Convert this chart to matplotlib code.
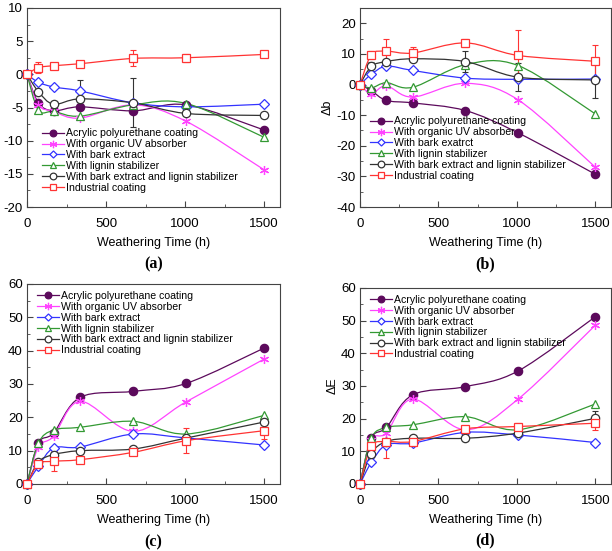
import numpy as np
import matplotlib
matplotlib.use("Agg")
import matplotlib.pyplot as plt
from matplotlib.path import Path
from matplotlib.patches import PathPatch
from matplotlib.lines import Line2D
from matplotlib.ticker import MultipleLocator

plt.rcParams["font.family"] = ["Liberation Sans", "DejaVu Sans"]
plt.rcParams["axes.unicode_minus"] = False

hours = [0, 72, 168, 336, 672, 1008, 1500]

names = ["Acrylic polyurethane coating", "With organic UV absorber", "With bark extract",
         "With lignin stabilizer", "With bark extract and lignin stabilizer", "Industrial coating"]
names_b = names[:2] + ["With bark exatrct"] + names[3:]

# panel (a) - lightness change
a_acrylic = [0, -4.3, -5.5, -4.9, -5.5, -4.6, -8.4]
a_uv = [0, -4.6, -5.6, -6.6, -4.6, -7.1, -14.4]
a_bark = [0, -1.2, -1.9, -2.5, -4.3, -4.9, -4.5]
a_lignin = [0, -5.4, -5.6, -6.3, -4.6, -4.4, -9.5]
a_both = [0, -2.6, -4.5, -3.7, -4.3, -5.9, -6.2]
a_ind = [0, 1.0, 1.3, 1.6, 2.4, 2.5, 3.0]
a_both_err = [0, 0, 0.4, 2.9, 3.7, 0, 0]
a_ind_err = [0, 0.8, 0, 0, 1.2, 0.6, 0]

# panel (b) - delta b
b_acrylic = [0, -2.0, -5.2, -6.0, -8.5, -15.8, -29.3]
b_uv = [0, -3.0, -0.4, -4.1, 0.4, -5.0, -27.0]
b_bark = [0, 3.3, 6.0, 4.6, 2.1, 1.7, 1.8]
b_lignin = [0, -1.1, 0.6, -0.9, 6.5, 6.2, -9.6]
b_both = [0, 5.9, 7.5, 8.4, 7.5, 2.4, 1.5]
b_ind = [0, 9.7, 10.9, 10.3, 13.6, 9.5, 7.6]
b_both_err = [0, 1.5, 0, 0, 3.5, 4.6, 6.0]
b_ind_err = [0, 1.2, 4.0, 2.0, 1.3, 8.3, 5.4]

# panel (c) - delta a (colour)
c_acrylic = [0, 12.3, 15.3, 26.0, 27.8, 30.2, 40.8]
c_uv = [0, 11.1, 14.3, 24.8, 15.8, 24.7, 37.5]
c_bark = [0, 5.3, 10.8, 11.1, 15.0, 13.8, 11.7]
c_lignin = [0, 12.3, 16.2, 17.0, 18.8, 15.0, 20.6]
c_both = [0, 6.6, 8.8, 10.0, 10.5, 13.8, 18.6]
c_ind = [0, 6.0, 6.8, 7.3, 9.5, 13.0, 16.0]
c_both_err = [0, 0, 0, 0, 0.8, 0, 0]
c_ind_err = [0, 0.8, 3.0, 0, 0.8, 3.8, 2.5]

# panel (d) - delta E
d_acrylic = [0, 14.0, 17.3, 27.3, 29.8, 34.6, 51.2]
d_uv = [0, 13.5, 15.6, 26.0, 16.6, 26.0, 48.6]
d_bark = [0, 6.6, 12.0, 12.5, 15.8, 15.0, 12.7]
d_lignin = [0, 14.0, 17.3, 18.1, 20.6, 16.6, 24.5]
d_both = [0, 9.3, 13.0, 14.0, 14.0, 15.6, 20.1]
d_ind = [0, 11.5, 13.0, 13.0, 16.9, 17.6, 18.6]
d_both_err = [0, 0, 0, 0, 0, 0, 2.3]
d_ind_err = [0, 0, 5.0, 1.5, 0, 1.2, 2.0]

colors = ["#5c0a5c", "#ff44ff", "#3333ff", "#339933", "#333333", "#ff3333"]
markers = ["o", (6, 2, 0), "D", "^", "o", "s"]
msizes = [6, 6.5, 4.8, 6.2, 6, 5.8]
filled = [True, True, False, False, False, False]


def smooth_path(x, y):
    # Excel-style smoothed line: cubic Bezier segments with Catmull-Rom control points
    pts = np.column_stack([x, y]).astype(float)
    n = len(pts)
    verts = [pts[0]]
    codes = [Path.MOVETO]
    for i in range(n - 1):
        p0 = pts[max(i - 1, 0)]
        p1 = pts[i]
        p2 = pts[i + 1]
        p3 = pts[min(i + 2, n - 1)]
        verts += [p1 + (p2 - p0) / 6, p2 - (p3 - p1) / 6, p2]
        codes += [Path.CURVE4] * 3
    return Path(verts, codes)


def draw_panel(ax, series, errs, labels, ylim, ystep, legend_loc, ylabel, tag):
    for k, vals in enumerate(series):
        ax.add_patch(PathPatch(smooth_path(hours, vals), fill=False,
                               edgecolor=colors[k], lw=0.9, zorder=2, clip_on=False))
    for k, err in errs.items():
        ax.errorbar(hours, series[k], yerr=err, fmt="none", ecolor=colors[k],
                    elinewidth=0.8, capsize=2.5, capthick=0.8, zorder=2)
    handles = []
    for k, vals in enumerate(series):
        fc = colors[k] if filled[k] else "white"
        ax.plot(hours, vals, ls="none", marker=markers[k], ms=msizes[k],
                mfc=fc, mec=colors[k], mew=0.9, zorder=3, clip_on=False)
        handles.append(Line2D([], [], color=colors[k], lw=0.9, marker=markers[k],
                              ms=msizes[k] - 1.2, mfc=fc, mec=colors[k], mew=0.9))
    ax.set_xlim(0, 1600)
    ax.set_ylim(*ylim)
    ax.xaxis.set_major_locator(MultipleLocator(500))
    ax.xaxis.set_minor_locator(MultipleLocator(250))
    ax.yaxis.set_major_locator(MultipleLocator(ystep))
    ax.yaxis.set_minor_locator(MultipleLocator(ystep / 2))
    ax.tick_params(which="both", direction="in", labelsize=9.5, color="#444444")
    ax.tick_params(which="major", length=4)
    ax.tick_params(which="minor", length=2.5)
    ax.tick_params(axis="x", pad=8)
    ax.tick_params(axis="y", pad=3)
    for s in ax.spines.values():
        s.set_color("#444444")
        s.set_linewidth(0.8)
    ax.set_xlabel("Weathering Time (h)", fontsize=9, labelpad=5)
    if ylabel:
        ax.set_ylabel(ylabel, fontsize=9, labelpad=2)
    ax.legend(handles, labels, loc="upper left", bbox_to_anchor=legend_loc,
              frameon=False, fontsize=7.6, handlelength=2.1, handletextpad=0.15,
              labelspacing=0.08, borderpad=0, borderaxespad=0)
    ax.text(0.5, -0.29, tag, transform=ax.transAxes, ha="center", va="center",
            fontsize=11.5, fontweight="bold", family="Liberation Serif")


fig = plt.figure(figsize=(6.12, 5.51), dpi=100)
W, H = 612.0, 551.0


def box(l, t, r, b):
    return [l / W, 1 - b / H, (r - l) / W, (b - t) / H]


ax_a = fig.add_axes(box(27, 8, 280, 207))
ax_b = fig.add_axes(box(360, 8, 611, 207))
ax_c = fig.add_axes(box(27, 284, 280, 484))
ax_d = fig.add_axes(box(360, 288, 611, 484))

draw_panel(ax_a, [a_acrylic, a_uv, a_bark, a_lignin, a_both, a_ind],
           {4: a_both_err, 5: a_ind_err}, names, (-20, 10), 5, (0.06, 0.395), None, "(a)")
draw_panel(ax_b, [b_acrylic, b_uv, b_bark, b_lignin, b_both, b_ind],
           {4: b_both_err, 5: b_ind_err}, names_b, (-40, 25), 10, (0.04, 0.455), "\u0394b", "(b)")
draw_panel(ax_c, [c_acrylic, c_uv, c_bark, c_lignin, c_both, c_ind],
           {4: c_both_err, 5: c_ind_err}, names, (0, 60), 10, (0.04, 0.965), None, "(c)")
draw_panel(ax_d, [d_acrylic, d_uv, d_bark, d_lignin, d_both, d_ind],
           {4: d_both_err, 5: d_ind_err}, names, (0, 60), 10, (0.04, 0.965), "\u0394E", "(d)")

fig.savefig("out.png", dpi=100)
